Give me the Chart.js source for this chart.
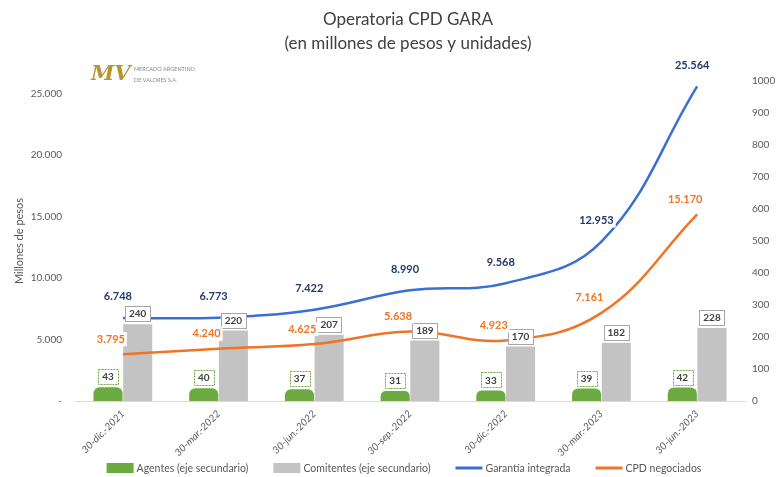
<!DOCTYPE html>
<html>
<head>
<meta charset="utf-8">
<script src="https://cdn.jsdelivr.net/npm/chart.js@4.4.1/dist/chart.umd.min.js"></script>
<style>
  html,body{margin:0;padding:0;background:#fff;}
  #wrap{width:776px;height:477px;position:relative;}
</style>
</head>
<body>
<div id="wrap"><canvas id="cpd-chart"></canvas></div>
<script>
/* Operatoria CPD GARA */
const fechas=['30-dic.-2021','30-mar.-2022','30-jun.-2022','30-sep.-2022','30-dic.-2022','30-mar.-2023','30-jun.-2023'];
const agentes=[43,40,37,31,33,39,42];
const comitentes=[240,220,207,189,170,182,228];
const garantia=[6748,6773,7422,8990,9568,12953,25564];
const cpdNegociados=[3795,4240,4625,5638,4923,7161,15170];
const ticksPesos=[0,5000,10000,15000,20000,25000];
const titulo=['Operatoria CPD GARA','(en millones de pesos y unidades)'];

const FONT='Lato, "Open Sans", sans-serif';
const GREEN='#6cab3f',GRAY='#c3c3c3',BLUE='#3a6fd6',ORANGE='#f07426';

function fmt(v){return String(v).replace(/\B(?=(\d{3})+(?!\d))/g,'.');}

const valueLabels={
  id:'valueLabels',
  afterDatasetsDraw(chart){
    const ctx=chart.ctx;ctx.save();
    chart.data.datasets.forEach(function(ds,i){
      const meta=chart.getDatasetMeta(i);
      meta.data.forEach(function(el,j){
        const t=fmt(ds.data[j]);
        if(ds.type==='line'){
          const isBlue=ds.borderColor===BLUE;
          ctx.font='bold 11px '+FONT;
          const w=ctx.measureText(t).width;
          const x=el.x-(isBlue?5:12),y=el.y-(isBlue?21:15);
          ctx.fillStyle='#fff';ctx.fillRect(x-w/2-2,y-7,w+4,14);
          ctx.fillStyle=isBlue?'#22396a':ORANGE;
          ctx.textAlign='center';ctx.textBaseline='middle';ctx.fillText(t,x,y);
        }else{
          const isGreen=ds.backgroundColor===GREEN;
          ctx.font='bold 10px '+FONT;
          const w=ctx.measureText(t).width+8,h=15;
          const x=el.x,y=el.y-3-h/2;
          ctx.fillStyle='#fff';ctx.fillRect(x-w/2,y-h/2,w,h);
          ctx.setLineDash(isGreen?[2,1]:[]);
          ctx.strokeStyle=isGreen?GREEN:'#a6a6a6';ctx.lineWidth=1;
          ctx.strokeRect(Math.round(x-w/2)+0.5,Math.round(y-h/2)+0.5,Math.round(w),h);
          ctx.setLineDash([]);
          ctx.fillStyle='#404040';ctx.textAlign='center';ctx.textBaseline='middle';
          ctx.fillText(t,x,y+0.5);
        }
      });
    });
    ctx.restore();
  }
};

// titulo, logo y leyenda dibujados a mano para controlar posiciones
const decor={
  id:'decor',
  afterDraw(chart){
    const ctx=chart.ctx;ctx.save();
    ctx.fillStyle='#404040';ctx.font='17px '+FONT;ctx.textAlign='center';ctx.textBaseline='middle';
    titulo.forEach(function(t,i){ctx.fillText(t,408,20+i*24);});

    ctx.fillStyle='#b8952f';ctx.font='italic bold 21px "DejaVu Serif", serif';
    ctx.textBaseline='middle';ctx.textAlign='left';
    ctx.fillText('MV',91,75);
    ctx.fillStyle='#8a8a8a';ctx.font='5.5px '+FONT;
    ctx.fillText('MERCADO ARGENTINO',134,69);
    ctx.fillText('DE VALORES S.A.',134,80);

    ctx.font='10.5px '+FONT;
    const box=27,gap=3,sep=25,cy=468;
    const items=chart.data.datasets.map(function(ds){return {ds:ds,w:box+gap+ctx.measureText(ds.label).width};});
    const total=items.reduce(function(s,it){return s+it.w;},0)+sep*(items.length-1);
    let x=404-total/2;
    items.forEach(function(it){
      const ds=it.ds;
      if(ds.type==='line'){
        ctx.strokeStyle=ds.borderColor;ctx.lineWidth=3;
        ctx.beginPath();ctx.moveTo(x,cy);ctx.lineTo(x+box,cy);ctx.stroke();
      }else{
        ctx.fillStyle=ds.backgroundColor;ctx.fillRect(x,cy-5,box,10);
      }
      ctx.fillStyle='#595959';ctx.textAlign='left';ctx.textBaseline='middle';
      ctx.fillText(ds.label,x+box+gap,cy+0.5);
      x+=it.w+sep;
    });
    ctx.restore();
  }
};

new Chart(document.getElementById('cpd-chart'),{
  data:{labels:fechas,datasets:[
    {type:'bar',label:'Agentes (eje secundario)',data:agentes,yAxisID:'y1',backgroundColor:GREEN,
      borderRadius:{topLeft:6,topRight:6},borderSkipped:'bottom',categoryPercentage:0.62,barPercentage:0.98,order:2},
    {type:'bar',label:'Comitentes (eje secundario)',data:comitentes,yAxisID:'y1',backgroundColor:GRAY,
      categoryPercentage:0.62,barPercentage:0.98,order:2},
    {type:'line',label:'Garantía integrada',data:garantia,yAxisID:'y',borderColor:BLUE,backgroundColor:BLUE,
      borderWidth:2.5,pointRadius:0,tension:0.4,fill:false,order:1},
    {type:'line',label:'CPD negociados',data:cpdNegociados,yAxisID:'y',borderColor:ORANGE,backgroundColor:ORANGE,
      borderWidth:2.5,pointRadius:0,tension:0.4,fill:false,order:1}
  ]},
  options:{responsive:true,maintainAspectRatio:false,animation:false,
    layout:{padding:{left:13,right:0,top:81,bottom:0}},
    scales:{
      x:{grid:{display:false,drawTicks:false},border:{color:'#d9d9d9'},
        afterFit:function(s){s.height=76;},
        ticks:{color:'#595959',font:{family:FONT,size:10,style:'italic'},minRotation:45,maxRotation:45,padding:7}},
      y:{position:'left',min:0,max:26000,
        afterFit:function(s){s.width=62;},
        afterBuildTicks:function(a){a.ticks=ticksPesos.map(function(v){return {value:v};});},
        ticks:{color:'#595959',font:{family:FONT,size:10},padding:13,
          callback:function(v){return v===0?'-':fmt(v);}},
        grid:{display:false,drawTicks:false},border:{display:false},
        title:{display:true,text:'Millones de pesos',color:'#595959',font:{family:FONT,size:11},padding:{top:0,bottom:6}}},
      y1:{position:'right',min:0,max:1000,
        afterFit:function(s){s.width=31;},
        ticks:{stepSize:100,color:'#595959',font:{family:FONT,size:10},padding:7,
          callback:function(v){return String(v);}},
        grid:{display:false,drawTicks:false},border:{display:false}}
    },
    plugins:{title:{display:false},legend:{display:false},tooltip:{enabled:false}}
  },
  plugins:[valueLabels,decor]
});
</script>
</body>
</html>
